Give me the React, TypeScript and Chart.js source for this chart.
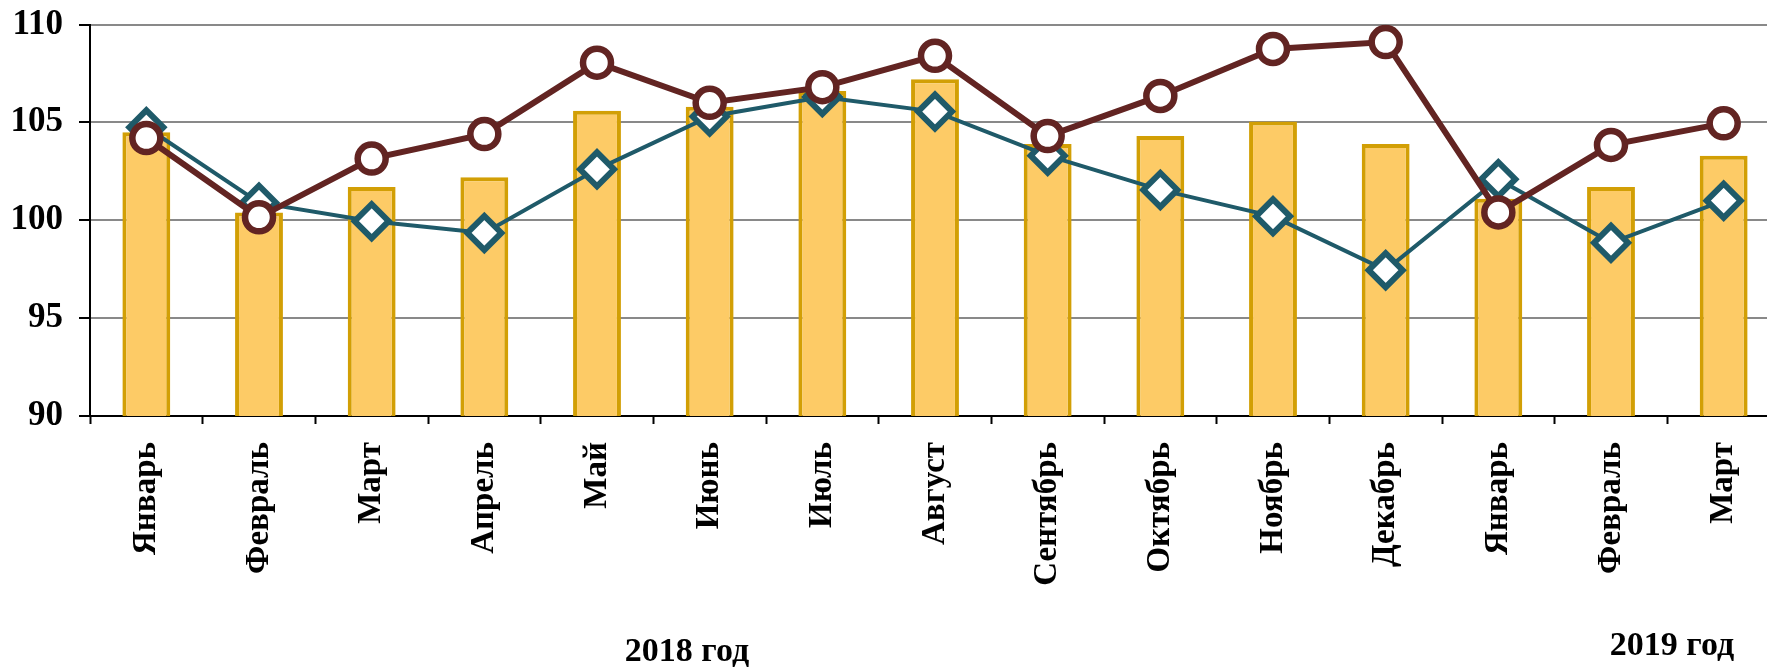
import React, { useEffect, useRef } from "react";
import { Chart, registerables } from "chart.js";

Chart.register(...registerables);

const categories = [
  "Январь", "Февраль", "Март", "Апрель", "Май", "Июнь", "Июль", "Август",
  "Сентябрь", "Октябрь", "Ноябрь", "Декабрь", "Январь", "Февраль", "Март",
];
const barValues = [104.5, 100.4, 101.7, 102.2, 105.6, 105.8, 106.6, 107.2, 103.9, 104.3, 105.05, 103.9, 101.1, 101.7, 103.3];
const tealValues = [104.75, 100.9, 99.95, 99.35, 102.6, 105.3, 106.3, 105.55, 103.3, 101.55, 100.2, 97.45, 102.1, 98.85, 101.0];
const brownValues = [104.2, 100.15, 103.15, 104.4, 108.05, 106.0, 106.8, 108.4, 104.3, 106.35, 108.75, 109.1, 100.4, 103.85, 104.95];
const yTicks = { min: 90, max: 110, step: 5 };
const yearLabels = ["2018 год", "2019 год"];

const FONT = "'Liberation Serif', 'Times New Roman', serif";

const yearPlugin = {
  id: "yearLabels",
  afterDraw(chart: any) {
    const ctx = chart.ctx;
    ctx.save();
    ctx.font = `bold 34px ${FONT}`;
    ctx.fillStyle = "#000";
    ctx.textAlign = "center";
    ctx.textBaseline = "middle";
    ctx.fillText(yearLabels[0], 687, 652);
    ctx.fillText(yearLabels[1], 1672, 646);
    ctx.restore();
  },
};

export default function App() {
  const ref = useRef<HTMLCanvasElement>(null);
  useEffect(() => {
    if (!ref.current) return;
    const chart = new Chart(ref.current, {
      type: "bar",
      data: {
        labels: categories,
        datasets: [
          {
            type: "line",
            data: brownValues,
            borderColor: "#622422",
            borderWidth: 6,
            pointStyle: "circle",
            pointRadius: 14,
            pointBorderWidth: 6.5,
            pointBackgroundColor: "#ffffff",
            pointBorderColor: "#622422",
            order: 0,
          } as any,
          {
            type: "line",
            data: tealValues,
            borderColor: "#1F5A69",
            borderWidth: 4,
            pointStyle: "rectRot",
            pointRadius: 17,
            pointBorderWidth: 6,
            pointBackgroundColor: "#ffffff",
            pointBorderColor: "#1F5A69",
            order: 1,
          } as any,
          {
            type: "bar",
            data: barValues,
            backgroundColor: "#FDCB66",
            borderColor: "#D29F05",
            borderWidth: 4,
            barPercentage: 0.425,
            categoryPercentage: 1,
            order: 2,
          },
        ],
      },
      options: {
        responsive: false,
        animation: false,
        layout: { autoPadding: false, padding: { top: 24.5, left: 0, right: 0, bottom: 0 } },
        plugins: { legend: { display: false }, tooltip: { enabled: false } },
        scales: {
          x: {
            offset: true,
            grid: {
              offset: true,
              drawOnChartArea: false,
              drawTicks: true,
              tickLength: 8,
              tickColor: "#000",
              tickWidth: 2,
            },
            border: { display: true, color: "#000", width: 2 },
            ticks: {
              autoSkip: false,
              minRotation: 90,
              maxRotation: 90,
              padding: 18,
              color: "#000",
              font: { family: FONT, size: 33, weight: "bold" },
            },
            afterFit: (scale: any) => {
              scale.height = 252;
              scale.paddingLeft = 0;
              scale.paddingRight = 0;
            },
          },
          y: {
            min: yTicks.min,
            max: yTicks.max,
            ticks: {
              stepSize: yTicks.step,
              padding: 16,
              color: "#000",
              font: { family: FONT, size: 35, weight: "bold" },
            },
            grid: {
              color: "#898989",
              lineWidth: 2,
              tickLength: 11,
              tickColor: "#000",
              tickWidth: 2,
            },
            border: { display: true, color: "#000", width: 2 },
            afterFit: (scale: any) => {
              scale.width = 90;
              scale.paddingTop = 0;
              scale.paddingBottom = 0;
            },
          },
        },
      },
      plugins: [yearPlugin],
    });
    return () => chart.destroy();
  }, []);
  return (
    <div style={{ position: "absolute", left: 0, top: 0, width: 1767, height: 668, overflow: "hidden", background: "#fff" }}>
      <canvas ref={ref} width={1780} height={668} style={{ display: "block" }} />
    </div>
  );
}
